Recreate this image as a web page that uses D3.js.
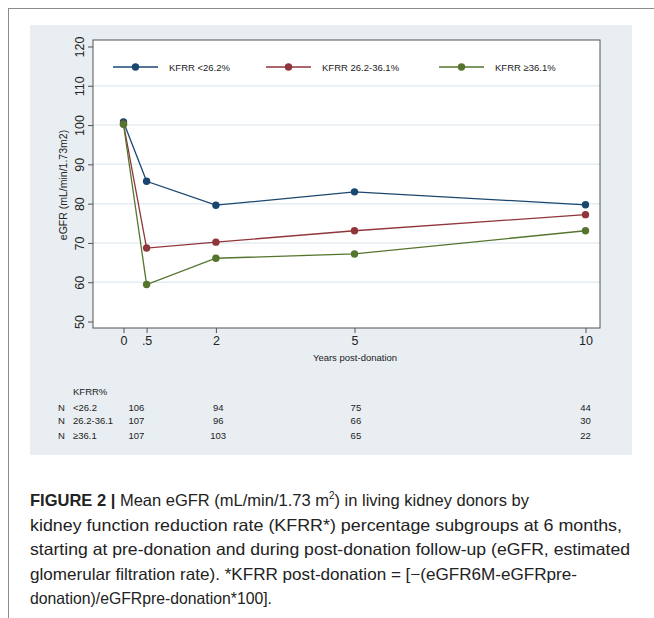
<!DOCTYPE html>
<html>
<head>
<meta charset="utf-8">
<script src="https://cdn.jsdelivr.net/npm/d3@7"></script>
<style>
  body { margin: 0; background: #fff; }
  svg text { font-family: "Liberation Sans", Arial, sans-serif; }
</style>
</head>
<body>
<div id="chart"></div>
<script>
// chart data
var years = [0, 0.5, 2, 5, 10];
var tickLabels = ["0", ".5", "2", "5", "10"];
var seriesNames = ["KFRR <26.2%", "KFRR 26.2-36.1%", "KFRR \u226536.1%"];
var lowGroup = [100.8, 85.7, 79.6, 83.0, 79.7];
var midGroup = [100.3, 68.7, 70.2, 73.1, 77.2];
var highGroup = [100.2, 59.4, 66.1, 67.2, 73.1];
var yTicks = [50, 60, 70, 80, 90, 100, 110, 120];

// number-at-risk table
var tableRows = ["<26.2", "26.2-36.1", "\u226536.1"];
var tableYears = [0.28, 2.05, 5.03, 10];
var nLow = [106, 94, 75, 44];
var nMid = [107, 96, 66, 30];
var nHigh = [107, 103, 65, 22];

var captionLines = [
  "Mean eGFR (mL/min/1.73 m",
  "kidney function reduction rate (KFRR*) percentage subgroups at 6 months,",
  "starting at pre-donation and during post-donation follow-up (eGFR, estimated",
  "glomerular filtration rate). *KFRR post-donation = [\u2212(eGFR6M-eGFRpre-",
  "donation)/eGFRpre-donation*100]."
];

var colors = ["#1a476f", "#90353b", "#55752f"];
var series = [lowGroup, midGroup, highGroup];
var counts = [nLow, nMid, nHigh];

var svg = d3.select("#chart").append("svg")
  .attr("width", 654)
  .attr("height", 618);

// outer frame lines
svg.append("line").attr("x1", 8).attr("x2", 654).attr("y1", 8.5).attr("y2", 8.5)
  .attr("stroke", "#8a8a8a").attr("stroke-width", 1);
svg.append("line").attr("x1", 8.5).attr("x2", 8.5).attr("y1", 8).attr("y2", 618)
  .attr("stroke", "#8a8a8a").attr("stroke-width", 1);

// graph region
svg.append("rect").attr("x", 30).attr("y", 25).attr("width", 602).attr("height", 430)
  .attr("fill", "#e8eef1");

var plot = { left: 93, right: 600, top: 40, bottom: 328 };
svg.append("rect")
  .attr("x", plot.left).attr("y", plot.top)
  .attr("width", plot.right - plot.left).attr("height", plot.bottom - plot.top)
  .attr("fill", "#fff");

var x = d3.scaleLinear().domain([0, 10]).range([123.5, 585.5]);
var y = d3.scaleLinear().domain([50, 120]).range([321.5, 46.5]);

// gridlines
svg.append("g").selectAll("line")
  .data(yTicks.filter(function(d) { return d > 50 && d < 120; }))
  .enter().append("line")
  .attr("x1", plot.left).attr("x2", plot.right)
  .attr("y1", function(d) { return y(d); }).attr("y2", function(d) { return y(d); })
  .attr("stroke", "#e4edf2").attr("stroke-width", 1.5);

// axes
var yAxis = d3.axisLeft(y).tickValues(yTicks).tickSize(5).tickPadding(4);
var gy = svg.append("g").attr("transform", "translate(" + plot.left + ",0)").call(yAxis);
gy.select(".domain").remove();
gy.selectAll("line").attr("stroke", "#555");
gy.selectAll("text")
  .attr("transform", "translate(-13,0) rotate(-90)")
  .attr("x", 0).attr("y", 0).attr("dy", "0.35em")
  .attr("text-anchor", "middle")
  .attr("font-size", 12.5).attr("fill", "#222");

var xAxis = d3.axisBottom(x).tickValues(years).tickFormat(function(d, i) { return tickLabels[i]; })
  .tickSize(5).tickPadding(3);
var gx = svg.append("g").attr("transform", "translate(0," + plot.bottom + ")").call(xAxis);
gx.select(".domain").remove();
gx.selectAll("line").attr("stroke", "#555");
gx.selectAll("text").attr("font-size", 12.5).attr("fill", "#222");

// plot border
svg.append("rect")
  .attr("x", plot.left).attr("y", plot.top)
  .attr("width", plot.right - plot.left).attr("height", plot.bottom - plot.top)
  .attr("fill", "none").attr("stroke", "#555").attr("stroke-width", 1);

// axis titles
svg.append("text")
  .attr("transform", "translate(67,185) rotate(-90)")
  .attr("text-anchor", "middle").attr("font-size", 10.5).attr("fill", "#222")
  .text("eGFR (mL/min/1.73m2)");
svg.append("text")
  .attr("x", 355).attr("y", 361)
  .attr("text-anchor", "middle").attr("font-size", 9.5).attr("fill", "#222")
  .text("Years post-donation");

// lines and markers
var line = d3.line()
  .x(function(d, i) { return x(years[i]); })
  .y(function(d) { return y(d); });

series.forEach(function(values, s) {
  svg.append("path")
    .datum(values)
    .attr("d", line)
    .attr("fill", "none")
    .attr("stroke", colors[s])
    .attr("stroke-width", 1.3);
});
series.forEach(function(values, s) {
  svg.append("g").selectAll("circle")
    .data(values)
    .enter().append("circle")
    .attr("cx", function(d, i) { return x(years[i]); })
    .attr("cy", function(d) { return y(d); })
    .attr("r", 3.7)
    .attr("fill", colors[s]);
});

// legend
var legendX = [113, 266, 439];
var legend = svg.append("g").selectAll("g")
  .data(seriesNames)
  .enter().append("g")
  .attr("transform", function(d, i) { return "translate(" + legendX[i] + ",67)"; });
legend.append("line").attr("x1", 0).attr("x2", 45).attr("y1", 0).attr("y2", 0)
  .attr("stroke", function(d, i) { return colors[i]; }).attr("stroke-width", 1.3);
legend.append("circle").attr("cx", 22.5).attr("cy", 0).attr("r", 3.7)
  .attr("fill", function(d, i) { return colors[i]; });
legend.append("text").attr("x", 56).attr("y", 3.5)
  .attr("font-size", 9.5).attr("fill", "#222")
  .text(function(d) { return d; });

// table under the x axis
svg.append("text").attr("x", 73).attr("y", 395)
  .attr("font-size", 9.5).attr("fill", "#222").text("KFRR%");
var rowY = [410.5, 423.5, 438.5];
tableRows.forEach(function(label, r) {
  svg.append("text").attr("x", 58).attr("y", rowY[r])
    .attr("font-size", 9.5).attr("fill", "#222").text("N");
  svg.append("text").attr("x", 73).attr("y", rowY[r])
    .attr("font-size", 9.5).attr("fill", "#222").text(label);
  svg.append("g").selectAll("text")
    .data(counts[r])
    .enter().append("text")
    .attr("x", function(d, i) { return x(tableYears[i]); })
    .attr("y", rowY[r])
    .attr("text-anchor", "middle")
    .attr("font-size", 9.5).attr("fill", "#222")
    .text(function(d) { return d; });
});

// caption
var cap = svg.append("g").attr("font-size", 16.5).attr("fill", "#222");
var capY = [506, 531, 555, 580, 604];
var capWidths = [493, 592, 600, 547, 242];
captionLines.forEach(function(t, i) {
  var el = cap.append("text").attr("x", 30).attr("y", capY[i]);
  if (i === 0) {
    el.append("tspan").attr("font-weight", "bold").text("FIGURE 2");
    el.append("tspan").attr("font-weight", "bold").text(" | ");
    el.append("tspan").text(t);
    el.append("tspan").attr("font-size", 10).attr("dy", -7).text("2");
    el.append("tspan").attr("dy", 7).text(") in living kidney donors by");
  } else {
    el.text(t).attr("textLength", capWidths[i]).attr("lengthAdjust", "spacingAndGlyphs");
  }
});
</script>
</body>
</html>
